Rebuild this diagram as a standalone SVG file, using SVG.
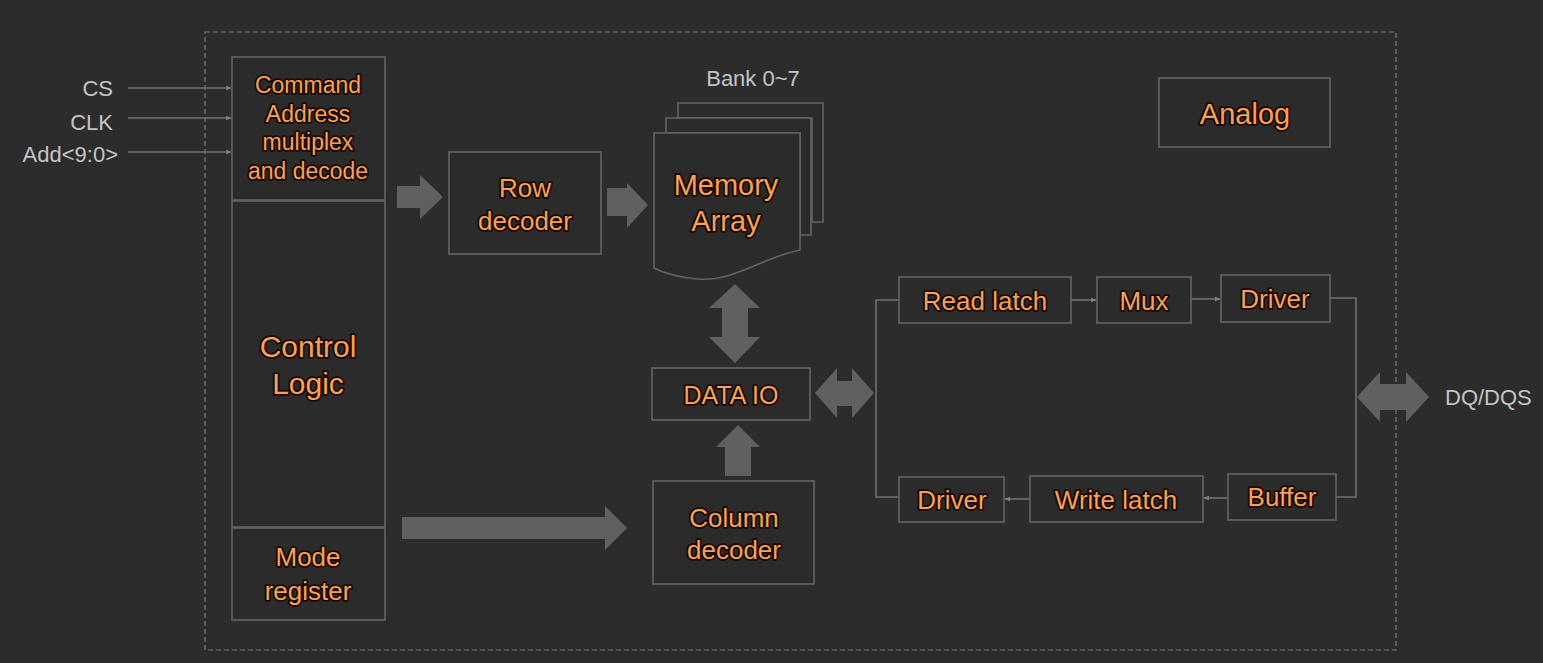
<svg xmlns="http://www.w3.org/2000/svg" width="1543" height="663" viewBox="0 0 1543 663">
<defs>
<style>
.box{fill:#2b2b2b;stroke:#646464;stroke-width:1.6}
.lbl{font-family:"Liberation Sans",Arial,sans-serif;fill:#f2a35a;stroke:#1e0800;stroke-width:3.6;paint-order:stroke;stroke-linejoin:round;text-anchor:middle;dominant-baseline:central}
.sig{font-family:"Liberation Sans",Arial,sans-serif;fill:#c4c4c4;font-size:22px;dominant-baseline:central}
.wire{fill:none;stroke:#707070;stroke-width:1.6}
.blk{fill:#606060}
</style>
<marker id="ah" viewBox="0 0 8 8" refX="7" refY="4" markerWidth="6" markerHeight="6" orient="auto" markerUnits="userSpaceOnUse">
<path d="M0,1 L8,4 L0,7 Z" fill="#808080"/>
</marker>
</defs>
<rect width="1543" height="663" fill="#2c2c2c"/>
<rect id="chip-border" x="205" y="32" width="1191" height="618" fill="none" stroke="#7a7a7a" stroke-width="1.2" stroke-dasharray="5 3"/>

<g id="connectors">
<path class="wire" d="M128,88 H231" marker-end="url(#ah)"/>
<path class="wire" d="M128,118 H231" marker-end="url(#ah)"/>
<path class="wire" d="M128,152 H231" marker-end="url(#ah)"/>
<path class="blk" d="M397,186 H420 V175 L443,197 L420,219 V208 H397 Z"/>
<path class="blk" d="M607,188 H627 V183 L648,205 L627,228 V216 H607 Z"/>
<path class="blk" d="M735,284 L760,308 H748 V337 H760 L735,363 L709,337 H722 V308 H709 Z"/>
<path class="blk" d="M738,425 L760,447 H751 V476 H725 V447 H716 Z"/>
<path class="blk" d="M402,517 H605 V506 L627,528 L605,550 V539 H402 Z"/>
<path class="blk" d="M815,393 L837,368 V381 H852 V368 L874,393 L852,418 V406 H837 V418 Z"/>
<path class="blk" d="M1357,397 L1380,372 V384 H1406 V372 L1429,397 L1406,422 V410 H1380 V422 Z"/>
<path class="wire" d="M899,300 H876 V497 H899"/>
<path class="wire" d="M1330,298 H1356 V497 H1336"/>
<path class="wire" d="M1071,300 H1096" marker-end="url(#ah)"/>
<path class="wire" d="M1191,299 H1220" marker-end="url(#ah)"/>
<path class="wire" d="M1228,498 H1204" marker-end="url(#ah)"/>
<path class="wire" d="M1030,499 H1005" marker-end="url(#ah)"/>
</g>

<g id="signals">
<text class="sig" x="113" y="88" text-anchor="end">CS</text>
<text class="sig" x="113" y="122" text-anchor="end">CLK</text>
<text class="sig" x="118" y="154" text-anchor="end">Add&lt;9:0&gt;</text>
<text class="sig" x="1445" y="397">DQ/DQS</text>
</g>

<g id="command">
<rect class="box" x="232" y="57" width="153" height="143"/>
<text class="lbl" x="308" y="85" font-size="23">Command</text>
<text class="lbl" x="308" y="114" font-size="23">Address</text>
<text class="lbl" x="308" y="142" font-size="23">multiplex</text>
<text class="lbl" x="308" y="171" font-size="23">and decode</text>
</g>
<g id="control-logic">
<rect class="box" x="232" y="201" width="153" height="326"/>
<text class="lbl" x="308" y="346" font-size="30">Control</text>
<text class="lbl" x="308" y="383" font-size="30">Logic</text>
</g>
<g id="mode-register">
<rect class="box" x="232" y="528" width="153" height="92"/>
<text class="lbl" x="308" y="557" font-size="26">Mode</text>
<text class="lbl" x="308" y="591" font-size="26">register</text>
</g>
<g id="row-decoder">
<rect class="box" x="449" y="152" width="152" height="102"/>
<text class="lbl" x="525" y="188" font-size="26">Row</text>
<text class="lbl" x="525" y="221" font-size="26">decoder</text>
</g>
<g id="memory-array">
<text class="sig" x="753" y="78" text-anchor="middle">Bank 0~7</text>
<path class="box" d="M678,103 H823 V222 H812 V118 H678 Z"/>
<path class="box" d="M666,118 H811 V235 H800 V133 H666 Z"/>
<path class="box" d="M654,133 H800 V250 C760,258 735,282 697,279 C675,277 662,272 654,268 Z"/>
<text class="lbl" x="726" y="185" font-size="29">Memory</text>
<text class="lbl" x="726" y="221" font-size="29">Array</text>
</g>
<g id="data-io">
<rect class="box" x="652" y="368" width="158" height="52"/>
<text class="lbl" x="731" y="395" font-size="25">DATA IO</text>
</g>
<g id="column-decoder">
<rect class="box" x="653" y="481" width="161" height="103"/>
<text class="lbl" x="734" y="518" font-size="26">Column</text>
<text class="lbl" x="734" y="550" font-size="26">decoder</text>
</g>
<g id="analog">
<rect class="box" x="1159" y="78" width="171" height="69"/>
<text class="lbl" x="1245" y="114" font-size="29">Analog</text>
</g>
<g id="read-latch">
<rect class="box" x="899" y="277" width="172" height="46"/>
<text class="lbl" x="985" y="301" font-size="26">Read latch</text>
</g>
<g id="mux">
<rect class="box" x="1097" y="277" width="94" height="46"/>
<text class="lbl" x="1144" y="301" font-size="26">Mux</text>
</g>
<g id="driver-out">
<rect class="box" x="1221" y="275" width="109" height="47"/>
<text class="lbl" x="1275" y="299" font-size="26">Driver</text>
</g>
<g id="driver-in">
<rect class="box" x="899" y="477" width="105" height="45"/>
<text class="lbl" x="952" y="500" font-size="26">Driver</text>
</g>
<g id="write-latch">
<rect class="box" x="1030" y="476" width="173" height="46"/>
<text class="lbl" x="1116" y="500" font-size="26">Write latch</text>
</g>
<g id="buffer">
<rect class="box" x="1228" y="474" width="108" height="46"/>
<text class="lbl" x="1282" y="497" font-size="26">Buffer</text>
</g>
</svg>
